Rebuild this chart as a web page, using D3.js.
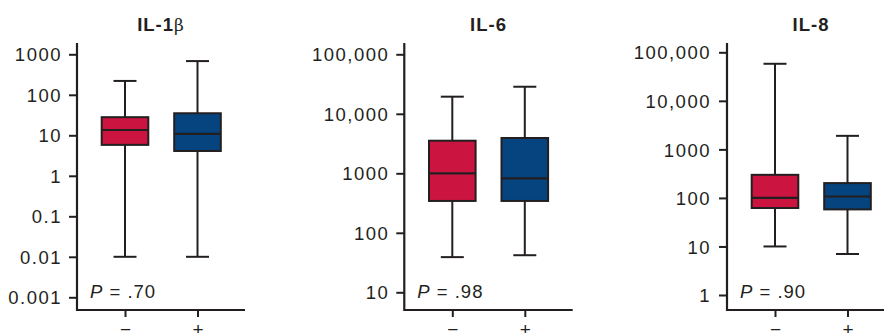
<!DOCTYPE html>
<html>
<head>
<meta charset="utf-8">
<script src="https://cdn.jsdelivr.net/npm/d3@7"></script>
<style>
  body { margin: 0; background: #fff; }
  text { font-family: "Liberation Sans", Arial, Helvetica, sans-serif; fill: #231f20; }
</style>
</head>
<body>
<div id="chart"></div>
<script>
// data
const titles = ["IL-1", "IL-6", "IL-8"];
const groups = ["\u2212", "+"];
const pLabels = [".70", ".98", ".90"];

// [min, q1, median, q3, max] for − and +
const il1bStats = [[0.01, 5.8, 13.5, 28, 220], [0.01, 4.1, 10.8, 35, 680]];
const il6Stats = [[39, 343, 1000, 3530, 19400], [42, 343, 824, 3920, 28500]];
const il8Stats = [[10, 62, 100, 299, 58000], [7, 58, 107, 202, 1900]];

const il1bTicks = [0.001, 0.01, 0.1, 1, 10, 100, 1000];
const il6Ticks = [10, 100, 1000, 10000, 100000];
const il8Ticks = [1, 10, 100, 1000, 10000, 100000];

const colors = ["#cc1440", "#064480"];

const width = 884, height = 333;
const svg = d3.select("#chart").append("svg")
  .attr("width", width).attr("height", height);

const ink = "#231f20";
const axisTop = 43, axisBottom = 310;

// layout per panel
const panels = [
  { title: titles[0], beta: true, stats: il1bStats, ticks: il1bTicks, p: pLabels[0],
    ax: 77, right: 245, domain: [0.001, 1000], yr: [297.3, 54.3], labelGap: 15 },
  { title: titles[1], stats: il6Stats, ticks: il6Ticks, p: pLabels[1],
    ax: 404.3, right: 572.7, domain: [10, 100000], yr: [292.3, 54.3], labelGap: 15 },
  { title: titles[2], stats: il8Stats, ticks: il8Ticks, p: pLabels[2],
    ax: 727, right: 895, domain: [1, 100000], yr: [295, 52.3], labelGap: 16 }
];

const fmt = d3.format(",");
function tickText(v) {
  if (v < 10000) return String(v);
  return fmt(v);
}

panels.forEach(function (p) {
  const g = svg.append("g");

  const y = d3.scaleLog().domain(p.domain).range(p.yr);
  const x = d3.scalePoint().domain(groups).range([p.ax + 48, p.ax + 120.5]);
  const boxW = 46.6, capW = 23;

  // title
  const t = g.append("text")
    .attr("x", (p.ax + p.right) / 2)
    .attr("y", 31)
    .attr("text-anchor", "middle")
    .style("font-size", "18.5px")
    .style("letter-spacing", "1px")
    .style("font-weight", "bold")
    .text(p.title);
  if (p.beta) {
    t.append("tspan").style("font-weight", "normal")
      .style("font-family", "'DejaVu Serif', serif").style("font-size", "17px").text("\u03b2");
  }

  // y axis
  const yAxis = d3.axisLeft(y)
    .tickValues(p.ticks)
    .tickFormat(tickText)
    .tickSize(8)
    .tickPadding(p.labelGap - 8);
  const ya = g.append("g").attr("transform", "translate(" + p.ax + ",0)").call(yAxis);
  ya.select(".domain").remove();
  ya.selectAll(".tick line").attr("stroke", ink).attr("stroke-width", 2);
  ya.selectAll(".tick text")
    .style("font-size", "18.5px")
    .style("letter-spacing", "1.5px")
    .attr("fill", ink)
    .attr("dy", "0.36em");

  // x axis
  const xAxis = d3.axisBottom(x).tickSize(7).tickPadding(6);
  const xa = g.append("g").attr("transform", "translate(0," + axisBottom + ")").call(xAxis);
  xa.select(".domain").remove();
  xa.selectAll(".tick line").attr("stroke", ink).attr("stroke-width", 2);
  xa.selectAll(".tick text").style("font-size", "19px").attr("fill", ink);

  // axis lines
  g.append("path")
    .attr("d", d3.line()([[p.ax, axisTop], [p.ax, axisBottom], [p.right, axisBottom]]))
    .attr("fill", "none").attr("stroke", ink).attr("stroke-width", 2.2);

  // boxes
  const boxes = g.selectAll("g.box")
    .data(p.stats)
    .join("g").attr("class", "box");

  boxes.append("line")
    .attr("x1", (d, i) => x(groups[i])).attr("x2", (d, i) => x(groups[i]))
    .attr("y1", d => y(d[0])).attr("y2", d => y(d[4]))
    .attr("stroke", ink).attr("stroke-width", 2);

  boxes.selectAll("line.cap")
    .data((d, i) => [[d[0], i], [d[4], i]])
    .join("line").attr("class", "cap")
    .attr("x1", d => x(groups[d[1]]) - capW / 2).attr("x2", d => x(groups[d[1]]) + capW / 2)
    .attr("y1", d => y(d[0])).attr("y2", d => y(d[0]))
    .attr("stroke", ink).attr("stroke-width", 2);

  boxes.append("rect")
    .attr("x", (d, i) => x(groups[i]) - boxW / 2)
    .attr("width", boxW)
    .attr("y", d => y(d[3]))
    .attr("height", d => y(d[1]) - y(d[3]))
    .attr("fill", (d, i) => colors[i])
    .attr("stroke", ink).attr("stroke-width", 2);

  boxes.append("line")
    .attr("x1", (d, i) => x(groups[i]) - boxW / 2).attr("x2", (d, i) => x(groups[i]) + boxW / 2)
    .attr("y1", d => y(d[2])).attr("y2", d => y(d[2]))
    .attr("stroke", ink).attr("stroke-width", 2.2);

  // P value
  const pt = g.append("text")
    .attr("x", p.ax + 13)
    .attr("y", 298)
    .style("font-size", "18.5px")
    .style("letter-spacing", "1px");
  pt.append("tspan").style("font-style", "italic").text("P");
  pt.append("tspan").text(" = " + p.p);
});
</script>
</body>
</html>
